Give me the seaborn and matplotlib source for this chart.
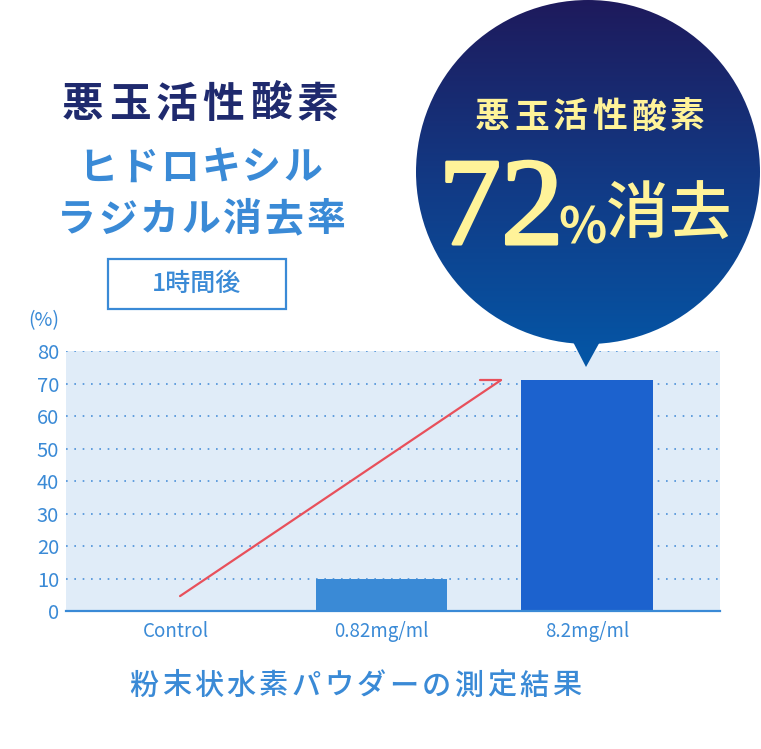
import matplotlib
matplotlib.use("Agg")
import matplotlib.pyplot as plt
import matplotlib.patheffects as pe
from matplotlib.colors import LinearSegmentedColormap
from matplotlib.patches import Circle, Polygon, Rectangle
import numpy as np
import pandas as pd
import seaborn as sns

# データ
categories = ["Control", "0.82mg/ml", "8.2mg/ml"]
values = [0, 10, 71]
bar_colors = ["#3a8ad6", "#3a8ad6", "#1c62ce"]
y_ticks = [0, 10, 20, 30, 40, 50, 60, 70, 80]

title_main = "悪玉活性酸素"
title_sub1 = "ヒドロキシル"
title_sub2 = "ラジカル消去率"
time_label = "1時間後"
caption = "粉末状水素パウダーの測定結果"
bubble_head = "悪玉活性酸素"
bubble_num = "72"
bubble_pct = "%"
bubble_tail = "消去"

BLUE = "#3a8ad6"
NAVY = "#1f2a6e"
YELLOW = "#fff399"

sns.set_theme(style="white")
plt.rcParams["font.family"] = ["Noto Sans CJK JP", "DejaVu Sans"]

df = pd.DataFrame({"cat": categories, "val": values})

fig = plt.figure(figsize=(7.61, 7.49), dpi=100)
ax = fig.add_axes([0.0867, 0.1842, 0.8594, 0.3471])

# 棒グラフ
sns.barplot(data=df, x="cat", y="val", hue="cat", palette=bar_colors,
            legend=False, width=0.64, saturation=1, linewidth=0, ax=ax, zorder=2)

ax.set_facecolor("#e0ecf8")
ax.set_ylim(0, 80)
ax.set_xlim(-0.535, 2.647)
ax.set_yticks(y_ticks)
ax.set_xlabel("")
ax.set_ylabel("")
ax.yaxis.grid(True, linestyle=(0, (1, 4)), color="#4a90d9", linewidth=1.2, zorder=1)
ax.set_axisbelow(True)
for s in ["top", "left", "right"]:
    ax.spines[s].set_visible(False)
ax.spines["bottom"].set_color(BLUE)
ax.spines["bottom"].set_linewidth(1.6)
ax.spines["bottom"].set_zorder(3)
ax.tick_params(axis="both", length=0, colors=BLUE)
ax.tick_params(axis="y", labelsize=14.5, pad=5)
ax.tick_params(axis="x", labelsize=13.5, pad=7)

# 赤い矢印
tip_x = len(values) - 1 - 0.32 - 0.1
tip_y = values[-1]
ax.plot([0.02, tip_x], [4.6, tip_y], color="#e8505b", lw=1.6, zorder=4,
        solid_capstyle="round")
ax.plot([tip_x - 0.1, tip_x], [tip_y, tip_y], color="#e8505b", lw=1.6, zorder=4,
        solid_capstyle="round")

# 上に重ねる装飾用の軸 (ピクセル座標)
ov = fig.add_axes([0, 0, 1, 1], zorder=5)
ov.patch.set_visible(False)
ov.axis("off")


def spaced(s, cx, cy, pitch, **kw):
    x0 = cx - pitch * (len(s) - 1) / 2
    for i, ch in enumerate(s):
        ov.text(x0 + i * pitch, cy, ch, ha="center", va="center", **kw)


# 左側のタイトル
spaced(title_main, 200, 105, 47, fontsize=30, color=NAVY, fontweight="bold")
spaced(title_sub1, 200, 168, 41, fontsize=28, color=BLUE, fontweight="bold")
spaced(title_sub2, 201, 220, 41.5, fontsize=28, color=BLUE, fontweight="bold")

ov.add_patch(Rectangle((108, 259), 178, 50, fill=False, edgecolor=BLUE, lw=1.6))
ov.text(197, 284, time_label, ha="center", va="center", fontsize=18,
        color=BLUE, fontweight="medium")

ov.text(44, 321, "(%)", ha="center", va="center", fontsize=14, color=BLUE)

spaced(caption, 355, 686, 32.5, fontsize=21, color=BLUE, fontweight="medium")

# 吹き出し (グラデーション)
cmap = LinearSegmentedColormap.from_list("bub", ["#1e1a5c", "#123a85", "#0457a7"])
grad = np.linspace(0, 1, 256).reshape(-1, 1)
circ = Circle((588, 172), 172, transform=ov.transData, facecolor="none", edgecolor="none")
tri = Polygon([(571, 338), (602, 338), (586, 367)], closed=True,
              transform=ov.transData, facecolor="none", edgecolor="none")
ov.add_patch(circ)
ov.add_patch(tri)
for clip in (circ, tri):
    im = ov.imshow(grad, cmap=cmap, extent=(416, 760, 367, 0), origin="upper",
                   aspect="auto", interpolation="bilinear")
    im.set_clip_path(clip)

spaced(bubble_head, 590, 117, 39, fontsize=25, color=YELLOW, fontweight="bold")
ov.text(501, 244, bubble_num, ha="center", va="baseline", fontsize=90,
        color=YELLOW, family=["Liberation Serif", "DejaVu Serif"],
        path_effects=[pe.withStroke(linewidth=2.2, foreground=YELLOW)])
ov.text(583, 243, bubble_pct, ha="center", va="baseline", fontsize=36,
        color=YELLOW, fontweight="bold")
spaced(bubble_tail, 669, 216, 63, fontsize=45, color=YELLOW, fontweight="medium")

ov.set_xlim(0, 761)
ov.set_ylim(749, 0)

fig.savefig("out.png", dpi=100)
